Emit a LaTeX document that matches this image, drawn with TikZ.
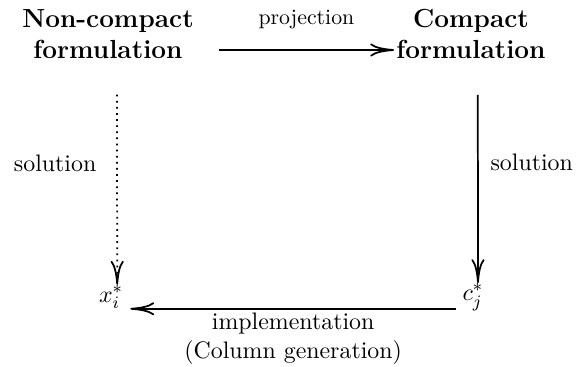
\documentclass[tikz,border=0pt,11pt]{standalone}
\usepackage{amsmath}
\usepackage{amssymb}
\usetikzlibrary{positioning,arrows.meta}

\begin{document}
\begin{tikzpicture}[x=.1612cm,y=.1612cm, every node/.style={inner sep=0pt}, fleche/.style={-{Computer Modern Rightarrow[length=11pt,width=6pt]},thick}]
 \useasboundingbox (0,0) rectangle (57.6,36.7);

 % the two formulations
 \node [align=center, font=\large\bfseries] (noncompact) at (10.8,33.3) {Non-compact\\formulation};
 \node [align=center, font=\large\bfseries] (compact) at (47.1,33.3) {Compact\\formulation};

 % the two solutions
 \node (xstar) at (11.1,7.0) {$x_i^*$};
 \node (cstar) at (47.3,7.0) {$c_j^*$};

 \draw[fleche] ([xshift=.395cm,yshift=-.258cm]noncompact.east) -- ([xshift=-.03cm,yshift=-.258cm]compact.west) node [midway, above=.33cm, font=\small] {projection};
 \draw[fleche, dotted] ([xshift=.145cm,yshift=-.58cm]noncompact.south) -- ([xshift=.1cm]xstar.north) node [pos=.36, left=.32cm] {solution};
 \draw[fleche] ([xshift=.11cm,yshift=-.58cm]compact.south) -- ([xshift=.08cm]cstar.north) node [pos=.36, right=.19cm] {solution};
 \draw[fleche] ([xshift=-.1cm,yshift=-.19cm]cstar.west) -- ([xshift=.11cm,yshift=-.19cm]xstar.east) node [midway, below=.05cm, align=center] {implementation\\(Column generation)};
\end{tikzpicture}
\end{document}
